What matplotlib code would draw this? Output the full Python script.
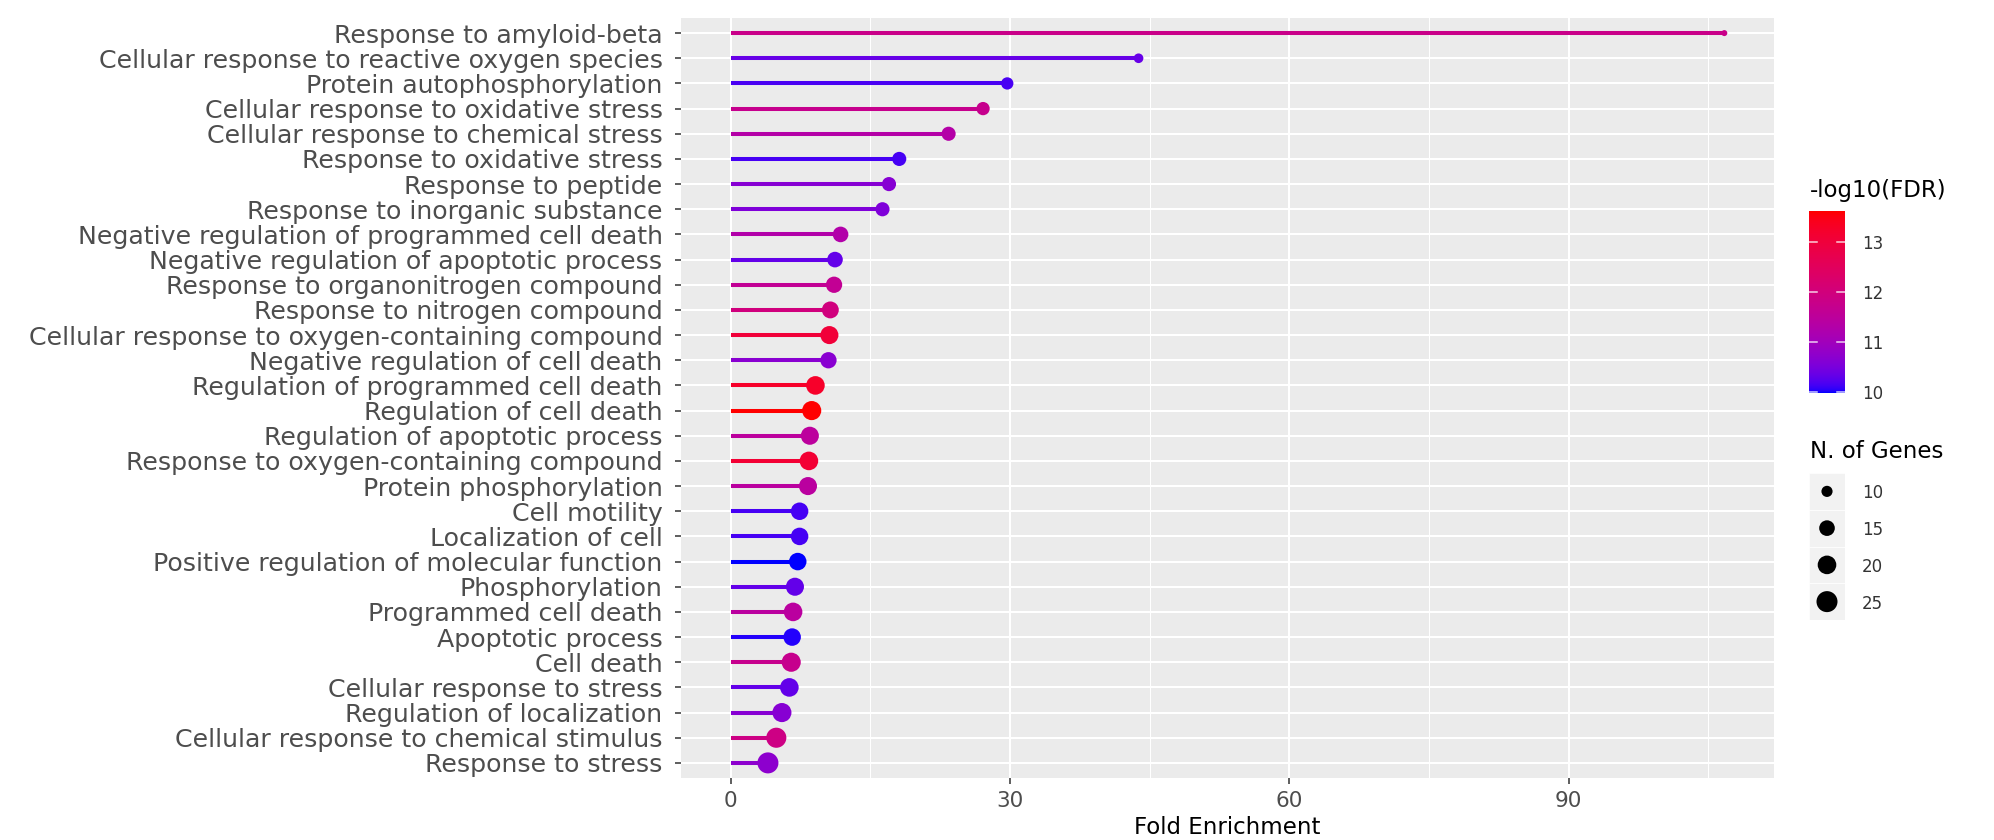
import numpy as np
import matplotlib
matplotlib.use("Agg")
import matplotlib.pyplot as plt
from matplotlib.colors import ListedColormap, Normalize
from matplotlib.patches import Rectangle

# GO terms, top to bottom as in the chart
terms = [
    "Response to amyloid-beta",
    "Cellular response to reactive oxygen species",
    "Protein autophosphorylation",
    "Cellular response to oxidative stress",
    "Cellular response to chemical stress",
    "Response to oxidative stress",
    "Response to peptide",
    "Response to inorganic substance",
    "Negative regulation of programmed cell death",
    "Negative regulation of apoptotic process",
    "Response to organonitrogen compound",
    "Response to nitrogen compound",
    "Cellular response to oxygen-containing compound",
    "Negative regulation of cell death",
    "Regulation of programmed cell death",
    "Regulation of cell death",
    "Regulation of apoptotic process",
    "Response to oxygen-containing compound",
    "Protein phosphorylation",
    "Cell motility",
    "Localization of cell",
    "Positive regulation of molecular function",
    "Phosphorylation",
    "Programmed cell death",
    "Apoptotic process",
    "Cell death",
    "Cellular response to stress",
    "Regulation of localization",
    "Cellular response to chemical stimulus",
    "Response to stress",
]
fold_enrichment = [106.7, 43.8, 29.7, 27.1, 23.4, 18.1, 17.0, 16.3, 11.8, 11.2,
                   11.1, 10.7, 10.6, 10.5, 9.1, 8.7, 8.5, 8.4, 8.3, 7.4,
                   7.4, 7.2, 6.9, 6.7, 6.6, 6.5, 6.3, 5.5, 4.9, 4.0]
neg_log10_fdr = [11.8, 10.35, 10.16, 11.73, 11.33, 10.14, 10.64, 10.56, 11.29, 10.31,
                 11.62, 11.99, 13.05, 10.67, 13.27, 13.63, 11.48, 13.12, 11.44, 10.14,
                 10.14, 9.98, 10.31, 11.44, 10.03, 11.73, 10.31, 10.64, 11.88, 10.71]
n_genes = [8, 9, 11, 12, 13, 13, 13, 13, 15, 15,
           16, 17, 19, 16, 20, 21, 19, 20, 19, 18,
           18, 18, 19, 20, 18, 21, 20, 21, 23, 25]

cbar_ticks = [10, 11, 12, 13]
size_breaks = [10, 15, 20, 25]

W, H = 1994, 840


# ggplot style blue -> red gradient, interpolated in Lab space
def to_lab(rgb):
    rgb = np.asarray(rgb, float)
    c = np.where(rgb <= 0.04045, rgb / 12.92, ((rgb + 0.055) / 1.055) ** 2.4)
    M = np.array([[0.4124, 0.3576, 0.1805],
                  [0.2126, 0.7152, 0.0722],
                  [0.0193, 0.1192, 0.9505]])
    xyz = M @ c / np.array([0.95047, 1.0, 1.08883])
    f = np.where(xyz > 0.008856, np.cbrt(xyz), 7.787 * xyz + 16 / 116)
    return np.array([116 * f[1] - 16, 500 * (f[0] - f[1]), 200 * (f[1] - f[2])])


def from_lab(lab):
    L, a, b = lab
    fy = (L + 16) / 116
    fx = fy + a / 500
    fz = fy - b / 200
    f = np.array([fx, fy, fz])
    xyz = np.where(f ** 3 > 0.008856, f ** 3, (f - 16 / 116) / 7.787)
    xyz = xyz * np.array([0.95047, 1.0, 1.08883])
    Minv = np.array([[3.2406, -1.5372, -0.4986],
                     [-0.9689, 1.8758, 0.0415],
                     [0.0557, -0.2040, 1.0570]])
    c = np.clip(Minv @ xyz, 0, 1)
    rgb = np.where(c <= 0.0031308, 12.92 * c, 1.055 * c ** (1 / 2.4) - 0.055)
    return np.clip(rgb, 0, 1)


lab_lo = to_lab([0, 0, 1])
lab_hi = to_lab([1, 0, 0])
cols = [from_lab(lab_lo + t * (lab_hi - lab_lo)) for t in np.linspace(0, 1, 256)]
cmap = ListedColormap(cols)
norm = Normalize(vmin=min(neg_log10_fdr), vmax=max(neg_log10_fdr))


def dot_px(n):
    n = np.asarray(n, float)
    return 6 + 3.64 * np.sqrt(np.clip(n - 8, 0, None))


def dot_area(n):
    return (dot_px(n) * 0.72) ** 2


fig = plt.figure(figsize=(W / 100, H / 100), dpi=100)
ax = fig.add_axes([681 / W, 1 - 778 / H, (1774 - 681) / W, (778 - 18) / H])
ax.set_facecolor("#EBEBEB")
for s in ax.spines.values():
    s.set_visible(False)

y = np.arange(len(terms))
colors = cmap(norm(neg_log10_fdr))
ax.hlines(y, 0, fold_enrichment, colors=colors, linewidth=2.9, zorder=2)
ax.scatter(fold_enrichment, y, s=dot_area(n_genes), c=colors, linewidths=0, zorder=3)

hi = max(fold_enrichment)
ax.set_xlim(-0.05 * hi, hi * 1.05)
ax.set_ylim(len(terms) - 0.4, -0.6)
ax.set_xticks([0, 30, 60, 90])
ax.set_xticks([15, 45, 75, 105], minor=True)
ax.set_yticks(y)
ax.set_yticklabels(terms)
ax.grid(which="major", color="white", linewidth=1.5, zorder=0)
ax.grid(which="minor", axis="x", color="white", linewidth=0.75, zorder=0)
ax.set_axisbelow(True)
ax.tick_params(axis="y", which="major", length=4.3, width=1.1, color="#333333",
               labelsize=18.2, labelcolor="#4D4D4D", pad=9)
ax.tick_params(axis="x", which="major", length=4.3, width=1.1, color="#333333",
               labelsize=15.5, labelcolor="#4D4D4D", pad=5)
ax.tick_params(axis="x", which="minor", length=0)
ax.set_xlabel("Fold Enrichment", fontsize=16.5, labelpad=4)

# colour legend
fig.text(1810 / W, 1 - 190 / H, "-log10(FDR)", fontsize=16.5, va="center", ha="left")
cax = fig.add_axes([1809 / W, 1 - 393 / H, 36 / W, 182 / H])
grad = np.linspace(norm.vmin, norm.vmax, 256).reshape(-1, 1)
cax.imshow(grad, cmap=cmap, norm=norm, aspect="auto", origin="lower",
           extent=[0, 1, norm.vmin, norm.vmax])
cax.set_xlim(0, 1)
cax.set_ylim(norm.vmin, norm.vmax)
for t in cbar_ticks:
    cax.plot([0, 0.22], [t, t], color="white", lw=1.1, alpha=0.8)
    cax.plot([0.78, 1], [t, t], color="white", lw=1.1, alpha=0.8)
cax.set_xticks([])
cax.yaxis.tick_right()
cax.set_yticks(cbar_ticks)
cax.tick_params(axis="y", length=0, labelsize=12, labelcolor="#333333", pad=12)
for s in cax.spines.values():
    s.set_visible(False)

# size legend
fig.text(1810 / W, 1 - 451 / H, "N. of Genes", fontsize=16.5, va="center", ha="left")
sax = fig.add_axes([1809 / W, 1 - 620 / H, 36 / W, 147 / H])
sax.set_xlim(0, 1)
sax.set_ylim(len(size_breaks), 0)
for i, b in enumerate(size_breaks):
    sax.add_patch(Rectangle((0, i), 1, 1, facecolor="#F2F2F2", edgecolor="white", lw=0.5))
sax.scatter([0.5] * len(size_breaks), np.arange(len(size_breaks)) + 0.5,
            s=dot_area(size_breaks), c="black", linewidths=0, zorder=3)
sax.set_xticks([])
sax.yaxis.tick_right()
sax.set_yticks(np.arange(len(size_breaks)) + 0.5)
sax.set_yticklabels([str(b) for b in size_breaks])
sax.tick_params(axis="y", length=0, labelsize=12, labelcolor="#333333", pad=12)
for s in sax.spines.values():
    s.set_visible(False)

fig.savefig("out.png", dpi=100)
